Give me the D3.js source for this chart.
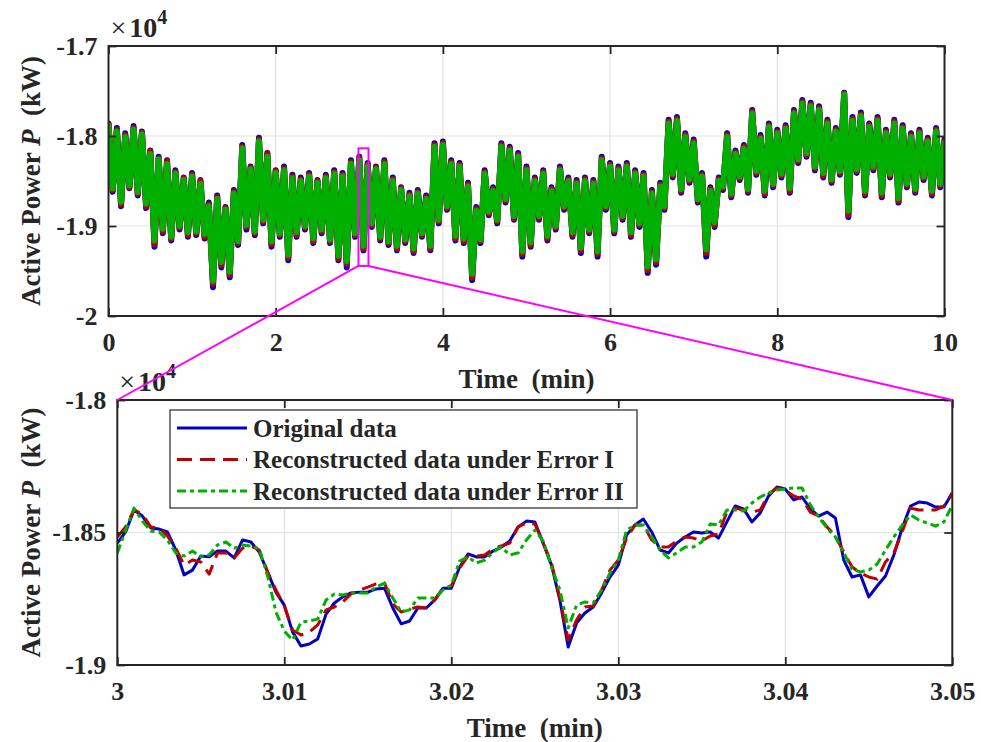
<!DOCTYPE html>
<html>
<head>
<meta charset="utf-8">
<script src="https://cdn.jsdelivr.net/npm/d3@7"></script>
<style>
body { margin: 0; background: #fff; }
text { font-family: "Liberation Serif", "Times New Roman", serif; font-weight: bold; fill: #262626; white-space: pre; }
.tick text { font-size: 26px; }
</style>
</head>
<body>
<div id="chart"></div>
<script>
// whole record, one point every 0.05 min (kW)
var TOP_T0 = 0, TOP_DT = 0.05;
var TOP_ORIGINAL = [
    -17860,-18620,-17910,-18780,-17970,-18580,-17890,-18660,-17950,-18800,
    -18160,-19230,-18230,-19080,-18270,-19160,-18380,-19040,-18460,-19120,
    -18410,-19100,-18490,-19140,-18740,-19680,-18660,-19460,-18790,-19570,
    -18600,-19210,-18100,-19040,-18340,-19100,-18020,-18970,-18190,-19230,
    -18380,-19120,-18340,-19380,-18430,-19120,-18460,-19040,-18410,-19190,
    -18490,-19080,-18430,-19190,-18380,-19380,-18410,-19460,-18270,-19120,
    -18230,-19270,-18300,-19010,-18340,-19160,-18270,-19210,-18460,-19270,
    -18570,-19190,-18630,-19300,-18600,-19120,-18660,-19270,-18080,-18970,
    -18060,-18820,-18270,-19160,-18300,-19190,-18520,-19600,-18790,-19190,
    -18380,-18880,-18570,-18970,-18080,-18740,-18120,-18930,-18190,-19340,
    -18340,-19230,-18460,-18930,-18380,-19160,-18570,-19040,-18340,-18820,
    -18460,-19120,-18490,-19300,-18460,-19080,-18490,-19340,-18230,-18820,
    -18300,-19080,-18340,-18930,-18300,-19120,-18380,-19010,-18410,-19520,
    -18600,-19430,-18520,-18820,-17820,-18460,-17790,-18630,-17970,-18520,
    -18040,-18740,-18410,-19340,-18570,-19010,-18460,-18600,-17970,-18680,
    -18160,-18490,-18100,-18630,-17710,-18430,-17990,-18660,-17860,-18570,
    -17930,-18460,-17880,-18630,-17710,-18300,-17600,-18230,-17630,-18380,
    -17670,-18460,-17820,-18520,-17910,-18430,-17520,-18900,-17790,-18410,
    -17740,-18660,-17860,-18380,-17790,-18680,-17930,-18460,-17820,-18740,
    -17880,-18570,-17970,-18630,-17930,-18490,-18020,-18660,-17910,-18570,
    -18040
];
var TOP_ERR1 = [
    -17870,-18600,-17930,-18760,-17990,-18570,-17910,-18640,-17960,-18780,
    -18170,-19200,-18250,-19060,-18280,-19140,-18400,-19020,-18470,-19100,
    -18430,-19080,-18500,-19120,-18760,-19640,-18680,-19430,-18800,-19540,
    -18620,-19190,-18120,-19010,-18350,-19080,-18040,-18950,-18200,-19200,
    -18390,-19100,-18360,-19350,-18450,-19100,-18480,-19020,-18430,-19170,
    -18500,-19060,-18450,-19170,-18400,-19360,-18430,-19420,-18290,-19100,
    -18250,-19250,-18320,-18990,-18350,-19140,-18290,-19190,-18480,-19250,
    -18580,-19170,-18650,-19280,-18620,-19100,-18680,-19250,-18100,-18950,
    -18080,-18800,-18290,-19140,-18320,-19170,-18540,-19570,-18810,-19170,
    -18400,-18860,-18590,-18950,-18100,-18720,-18140,-18910,-18210,-19310,
    -18360,-19210,-18480,-18910,-18400,-19140,-18590,-19020,-18360,-18800,
    -18480,-19100,-18510,-19270,-18480,-19060,-18510,-19310,-18250,-18800,
    -18320,-19060,-18360,-18910,-18320,-19100,-18400,-18990,-18430,-19490,
    -18620,-19400,-18540,-18800,-17840,-18440,-17810,-18610,-17990,-18500,
    -18060,-18720,-18430,-19300,-18590,-18990,-18480,-18580,-17990,-18660,
    -18180,-18470,-18120,-18610,-17730,-18410,-18010,-18640,-17880,-18550,
    -17950,-18440,-17900,-18610,-17730,-18280,-17620,-18210,-17650,-18360,
    -17690,-18440,-17840,-18500,-17930,-18410,-17530,-18870,-17810,-18390,
    -17760,-18640,-17880,-18360,-17810,-18660,-17950,-18440,-17840,-18720,
    -17900,-18550,-17990,-18610,-17950,-18470,-18040,-18640,-17930,-18550,
    -18060
];
var TOP_ERR2 = [
    -17890,-18580,-17950,-18730,-18010,-18550,-17930,-18620,-17980,-18750,
    -18200,-19160,-18260,-19030,-18310,-19120,-18420,-19000,-18490,-19070,
    -18450,-19060,-18530,-19090,-18780,-19610,-18700,-19400,-18820,-19510,
    -18640,-19170,-18140,-18990,-18370,-19060,-18060,-18930,-18230,-19170,
    -18410,-19080,-18380,-19320,-18470,-19070,-18500,-19000,-18450,-19140,
    -18520,-19040,-18470,-19150,-18420,-19330,-18450,-19390,-18310,-19080,
    -18270,-19220,-18340,-18970,-18370,-19120,-18310,-19170,-18500,-19220,
    -18600,-19150,-18670,-19250,-18640,-19080,-18700,-19220,-18120,-18930,
    -18100,-18780,-18310,-19110,-18340,-19140,-18560,-19530,-18830,-19150,
    -18420,-18840,-18610,-18930,-18120,-18700,-18160,-18890,-18230,-19280,
    -18380,-19180,-18500,-18890,-18420,-19110,-18610,-19000,-18380,-18780,
    -18500,-19070,-18530,-19240,-18500,-19040,-18530,-19280,-18270,-18780,
    -18340,-19040,-18380,-18890,-18340,-19070,-18420,-18970,-18450,-19450,
    -18640,-19370,-18560,-18780,-17860,-18420,-17830,-18590,-18010,-18480,
    -18080,-18700,-18450,-19260,-18610,-18960,-18500,-18560,-18010,-18640,
    -18200,-18450,-18140,-18590,-17750,-18390,-18030,-18610,-17900,-18530,
    -17970,-18420,-17920,-18580,-17750,-18260,-17640,-18190,-17670,-18340,
    -17710,-18410,-17860,-18480,-17950,-18390,-17540,-18830,-17830,-18370,
    -17780,-18610,-17900,-18340,-17830,-18630,-17970,-18420,-17860,-18690,
    -17920,-18530,-18010,-18590,-17970,-18450,-18060,-18610,-17950,-18530,
    -18080
];

// zoomed window 3 .. 3.05 min, one point every 0.0005 min (kW)
var ZOOM_T0 = 3, ZOOM_DT = 0.0005;
var ZOOM_ORIGINAL = [
    -18540,-18498,-18415,-18438,-18483,-18487,-18498,-18566,-18660,-18642,
    -18589,-18592,-18570,-18570,-18596,-18528,-18536,-18574,-18649,-18725,
    -18774,-18876,-18928,-18921,-18902,-18808,-18766,-18743,-18728,-18725,
    -18725,-18713,-18710,-18785,-18845,-18834,-18785,-18785,-18755,-18710,
    -18710,-18630,-18581,-18592,-18592,-18570,-18555,-18532,-18479,-18457,
    -18460,-18540,-18623,-18755,-18932,-18842,-18804,-18781,-18728,-18668,
    -18623,-18509,-18472,-18449,-18498,-18566,-18577,-18540,-18517,-18498,
    -18502,-18498,-18521,-18460,-18400,-18411,-18460,-18426,-18362,-18328,
    -18336,-18377,-18366,-18411,-18438,-18423,-18445,-18604,-18668,-18660,
    -18743,-18702,-18664,-18585,-18483,-18400,-18385,-18389,-18404,-18404,
    -18351
];
var ZOOM_ERR1 = [
    -18517,-18479,-18415,-18430,-18479,-18483,-18513,-18559,-18623,-18604,
    -18611,-18657,-18577,-18577,-18596,-18559,-18551,-18566,-18649,-18717,
    -18777,-18868,-18887,-18876,-18849,-18792,-18781,-18762,-18732,-18717,
    -18706,-18694,-18691,-18770,-18800,-18789,-18781,-18785,-18755,-18713,
    -18702,-18634,-18589,-18589,-18585,-18562,-18551,-18540,-18479,-18464,
    -18468,-18540,-18615,-18747,-18906,-18830,-18781,-18777,-18717,-18642,
    -18604,-18521,-18472,-18472,-18528,-18555,-18555,-18532,-18517,-18521,
    -18532,-18513,-18506,-18423,-18408,-18415,-18423,-18415,-18355,-18332,
    -18340,-18362,-18374,-18423,-18438,-18479,-18513,-18574,-18630,-18653,
    -18668,-18676,-18611,-18577,-18498,-18408,-18415,-18415,-18415,-18400,
    -18351
];
var ZOOM_ERR2 = [
    -18577,-18491,-18408,-18457,-18494,-18498,-18528,-18577,-18589,-18570,
    -18592,-18585,-18547,-18536,-18559,-18547,-18551,-18562,-18664,-18800,
    -18872,-18906,-18838,-18834,-18827,-18755,-18732,-18736,-18728,-18728,
    -18728,-18706,-18691,-18747,-18800,-18792,-18747,-18747,-18747,-18717,
    -18698,-18608,-18592,-18615,-18604,-18574,-18555,-18585,-18577,-18528,
    -18491,-18532,-18630,-18717,-18860,-18774,-18762,-18766,-18717,-18653,
    -18604,-18491,-18472,-18472,-18517,-18566,-18596,-18577,-18555,-18555,
    -18536,-18468,-18472,-18415,-18415,-18419,-18389,-18366,-18351,-18340,
    -18336,-18332,-18332,-18396,-18442,-18483,-18517,-18577,-18638,-18649,
    -18642,-18619,-18566,-18517,-18472,-18434,-18453,-18464,-18476,-18460,
    -18396
];

var TOP_XTICKS = [0, 2, 4, 6, 8, 10];
var TOP_XLABELS = ['0', '2', '4', '6', '8', '10'];
var TOP_YTICKS = [-20000, -19000, -18000, -17000];
var TOP_YLABELS = ['-2', '-1.9', '-1.8', '-1.7'];
var ZOOM_XTICKS = [3, 3.01, 3.02, 3.03, 3.04, 3.05];
var ZOOM_XLABELS = ['3', '3.01', '3.02', '3.03', '3.04', '3.05'];
var ZOOM_YTICKS = [-19000, -18500, -18000];
var ZOOM_YLABELS = ['-1.9', '-1.85', '-1.8'];

// magenta marker drawn on the top panel (time, kW)
var ZOOM_BOX = [2.99, 3.11, -19444, -18137];

var SERIES = ['Original data', 'Reconstructed data under Error I', 'Reconstructed data under Error II'];
var COLORS = ['#0000c0', '#c00000', '#00b000'];
var DASHES = [null, '15,8', '9,4,4,4'];

var WIDTH = 981, HEIGHT = 742;
var FRAME = '#262626';

var svg = d3.select('#chart').append('svg')
    .attr('width', WIDTH)
    .attr('height', HEIGHT);
svg.append('rect').attr('width', WIDTH).attr('height', HEIGHT).attr('fill', '#fff');

function panel(id, box, xdom, ydom, xt, xl, yt, yl, series, t0, dt, lw, dashed) {
    var w = box.right - box.left, h = box.bottom - box.top;
    var sx = d3.scaleLinear().domain(xdom).range([0, w]);
    var sy = d3.scaleLinear().domain(ydom).range([h, 0]);
    var g = svg.append('g')
        .attr('transform', 'translate(' + box.left + ',' + box.top + ')');

    // grid
    g.append('g').selectAll('line').data(xt.slice(1, -1)).enter().append('line')
        .attr('x1', sx).attr('x2', sx).attr('y1', 0).attr('y2', h)
        .attr('stroke', '#e3e3e3').attr('stroke-width', 1.2);
    g.append('g').selectAll('line').data(yt.slice(1, -1)).enter().append('line')
        .attr('y1', sy).attr('y2', sy).attr('x1', 0).attr('x2', w)
        .attr('stroke', '#e3e3e3').attr('stroke-width', 1.2);

    g.append('clipPath').attr('id', id)
        .append('rect').attr('width', w).attr('height', h);

    var line = d3.line()
        .x(function(d, i) { return sx(t0 + i * dt); })
        .y(function(d) { return sy(d); });
    for (var k = 0; k < series.length; k++) {
        g.append('path')
            .datum(series[k])
            .attr('clip-path', 'url(#' + id + ')')
            .attr('fill', 'none')
            .attr('stroke', COLORS[k])
            .attr('stroke-width', lw)
            .attr('stroke-linejoin', 'round')
            .attr('stroke-linecap', dashed ? 'butt' : 'round')
            .attr('stroke-dasharray', dashed ? DASHES[k] : null)
            .attr('d', line);
    }

    // axes, ticks pointing inward on all four sides
    g.append('g').attr('transform', 'translate(0,' + h + ')')
        .call(d3.axisBottom(sx).tickValues(xt).tickSize(-8).tickPadding(17)
            .tickFormat(function(d, i) { return xl[i]; }));
    g.append('g')
        .call(d3.axisTop(sx).tickValues(xt).tickSize(-8).tickFormat(''));
    g.append('g')
        .call(d3.axisLeft(sy).tickValues(yt).tickSize(-8).tickPadding(11)
            .tickFormat(function(d, i) { return yl[i]; }));
    g.append('g').attr('transform', 'translate(' + w + ',0)')
        .call(d3.axisRight(sy).tickValues(yt).tickSize(-8).tickFormat(''));
    g.selectAll('.domain').remove();
    g.selectAll('.tick line').attr('stroke', FRAME).attr('stroke-width', 1.8);

    g.append('rect')
        .attr('width', w).attr('height', h)
        .attr('fill', 'none').attr('stroke', FRAME).attr('stroke-width', 2);

    // exponent
    var ex = g.append('text').attr('x', 2).attr('y', -9);
    ex.append('tspan').style('font-size', '28px').style('font-weight', 'normal').text('\u00d7');
    ex.append('tspan').attr('dx', 3).style('font-size', '28px').text('10');
    ex.append('tspan').attr('dy', -13).style('font-size', '20px').text('4');

    // axis titles
    g.append('text')
        .attr('x', w / 2).attr('y', h + 72)
        .attr('text-anchor', 'middle')
        .style('font-size', '27px')
        .text('Time  (min)');
    var ylab = g.append('text')
        .attr('transform', 'translate(' + (40 - box.left) + ',' + (h / 2) + ') rotate(-90)')
        .attr('text-anchor', 'middle')
        .style('font-size', '27px');
    ylab.append('tspan').text('Active Power ');
    ylab.append('tspan').style('font-style', 'italic').text('P');
    ylab.append('tspan').text('  (kW)');

    return {sx: sx, sy: sy, box: box};
}

var topPanel = panel('clipTop', {left: 108.5, right: 944.5, top: 46, bottom: 316},
    [0, 10], [-20000, -17000], TOP_XTICKS, TOP_XLABELS, TOP_YTICKS, TOP_YLABELS,
    [TOP_ORIGINAL, TOP_ERR1, TOP_ERR2], TOP_T0, TOP_DT, 6, false);

var zoomPanel = panel('clipBot', {left: 117.3, right: 952.3, top: 400, bottom: 665},
    [3, 3.05], [-19000, -18000], ZOOM_XTICKS, ZOOM_XLABELS, ZOOM_YTICKS, ZOOM_YLABELS,
    [ZOOM_ORIGINAL, ZOOM_ERR1, ZOOM_ERR2], ZOOM_T0, ZOOM_DT, 3, true);

// legend
var lg = svg.append('g').attr('transform', 'translate(170,410)');
lg.append('rect')
    .attr('width', 467).attr('height', 98)
    .attr('fill', '#fff').attr('stroke', FRAME).attr('stroke-width', 1.2);
SERIES.forEach(function(name, i) {
    var y = 18 + i * 31.5;
    lg.append('line')
        .attr('x1', 7).attr('x2', 77).attr('y1', y).attr('y2', y)
        .attr('stroke', COLORS[i]).attr('stroke-width', 3)
        .attr('stroke-dasharray', DASHES[i]);
    lg.append('text')
        .attr('x', 83).attr('y', y).attr('dy', '0.34em')
        .style('font-size', '25px')
        .text(name);
});

// zoom marker and connectors
var bx0 = topPanel.box.left + topPanel.sx(ZOOM_BOX[0]);
var bx1 = topPanel.box.left + topPanel.sx(ZOOM_BOX[1]);
var byLo = topPanel.box.top + topPanel.sy(ZOOM_BOX[2]);
var byHi = topPanel.box.top + topPanel.sy(ZOOM_BOX[3]);
var mg = svg.append('g')
    .attr('fill', 'none').attr('stroke', '#ff00ff').attr('stroke-width', 2);
mg.append('rect')
    .attr('x', bx0).attr('y', byHi)
    .attr('width', bx1 - bx0).attr('height', byLo - byHi);
mg.append('line')
    .attr('x1', bx0).attr('y1', byLo)
    .attr('x2', zoomPanel.box.left).attr('y2', zoomPanel.box.top);
mg.append('line')
    .attr('x1', bx1).attr('y1', byLo)
    .attr('x2', zoomPanel.box.right).attr('y2', zoomPanel.box.top);
</script>
</body>
</html>
